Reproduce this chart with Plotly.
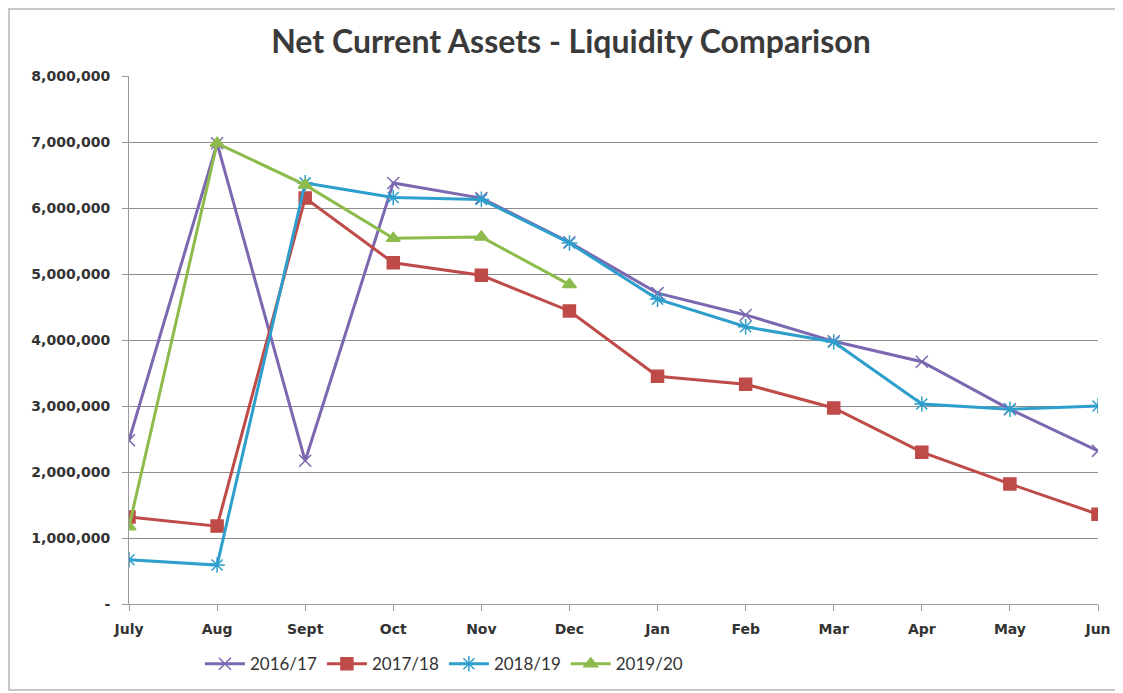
import plotly.graph_objects as go

months = ["July", "Aug", "Sept", "Oct", "Nov", "Dec", "Jan", "Feb", "Mar", "Apr", "May", "Jun"]

fy_2016_17 = [2480000, 6980000, 2170000, 6380000, 6150000, 5480000, 4710000, 4380000, 3980000, 3670000, 2950000, 2320000]
fy_2017_18 = [1320000, 1180000, 6150000, 5170000, 4980000, 4440000, 3450000, 3330000, 2970000, 2300000, 1820000, 1360000]
fy_2018_19 = [670000, 590000, 6380000, 6160000, 6130000, 5470000, 4620000, 4200000, 3970000, 3030000, 2950000, 3000000]
fy_2019_20 = [1170000, 6980000, 6350000, 5540000, 5560000, 4840000]

y_ticks = [0, 1000000, 2000000, 3000000, 4000000, 5000000, 6000000, 7000000, 8000000]
y_labels = ["-"] + [f"{v:,}" for v in y_ticks[1:]]

series = [
    ("2016/17", fy_2016_17, "#7B68B0", "x-thin-open", 12),
    ("2017/18", fy_2017_18, "#BE4B48", "square", 12),
    ("2018/19", fy_2018_19, "#2E9FCC", "asterisk-open", 13),
    ("2019/20", fy_2019_20, "#8DBB4C", "triangle-up", 12),
]

fig = go.Figure()
for name, vals, color, symbol, size in series:
    fig.add_trace(go.Scatter(
        x=months[:len(vals)], y=vals, name=name, mode="lines+markers",
        line=dict(color=color, width=3),
        marker=dict(symbol=symbol, size=size, color=color,
                    line=dict(color=color, width=1.5)),
    ))

fig.update_xaxes(
    categoryorder="array", categoryarray=months, range=[0, 11],
    showline=True, linecolor="#9a9a9a", linewidth=1,
    ticks="outside", ticklen=6, tickcolor="#9a9a9a",
    showgrid=False, automargin=False, ticklabelstandoff=6,
    tickfont=dict(family="DejaVu Sans", size=14, color="#333333", weight="bold"),
)
fig.update_yaxes(
    range=[0, 8000000], tickvals=y_ticks, ticktext=y_labels,
    showline=True, linecolor="#9a9a9a", linewidth=1,
    ticks="outside", ticklen=6, tickcolor="#9a9a9a",
    gridcolor="#8c8c8c", gridwidth=1, automargin=False, ticklabelstandoff=9,
    tickfont=dict(family="DejaVu Sans", size=14, color="#333333", weight="bold"),
)

# page body adds an 8px offset, margins are shifted to compensate
fig.update_layout(
    width=1123, height=693,
    paper_bgcolor="white", plot_bgcolor="white",
    margin=dict(l=121, r=33, t=68, b=97),
    title=dict(text="Net Current Assets - Liquidity Comparison",
               x=0.5013, xanchor="center", y=0.951, yanchor="middle",
               font=dict(family="Lato", size=32, color="#3a3a3a", weight="bold")),
    legend=dict(orientation="h", x=0.325, xanchor="center", y=-0.114, yanchor="middle",
                font=dict(family="Lato", size=17, color="#333333"),
                itemwidth=40, tracegroupgap=0),
    showlegend=True,
)

# outer chart border like the spreadsheet frame
fig.add_shape(type="rect", xref="paper", yref="paper",
              x0=-0.1238, x1=1.0206, y0=-0.163, y1=1.127,
              line=dict(color="#c8c8c8", width=2), layer="below")

fig.write_html("out.html")
